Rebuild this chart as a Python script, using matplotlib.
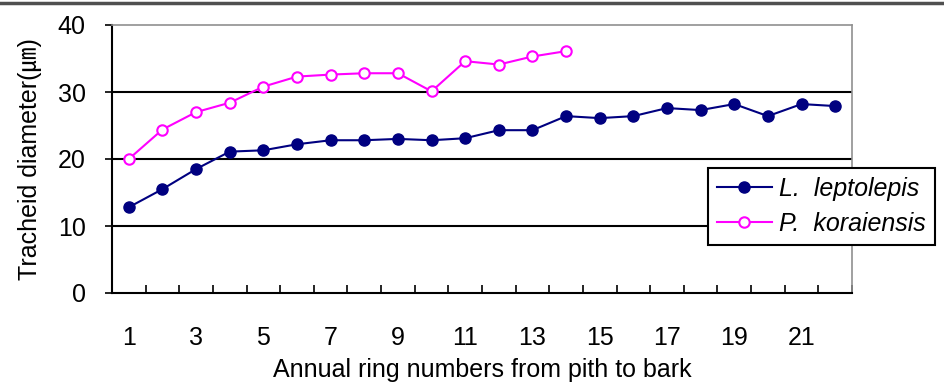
import matplotlib
matplotlib.use("Agg")
import matplotlib.pyplot as plt
from matplotlib.lines import Line2D

# ---- data ----
rings_l = list(range(1, 23))
l_leptolepis = [12.8, 15.5, 18.5, 21.1, 21.3, 22.2, 22.8, 22.8, 23.0, 22.8, 23.1, 24.3,
                24.3, 26.4, 26.1, 26.4, 27.6, 27.3, 28.2, 26.4, 28.2, 27.9]
rings_p = list(range(1, 15))
p_koraiensis = [20.0, 24.4, 27.0, 28.4, 30.8, 32.3, 32.6, 32.8, 32.8, 30.1, 34.6, 34.1,
                35.3, 36.1]
series_names = ["L.  leptolepis", "P.  koraiensis"]
xtick_labels = [str(i) for i in range(1, 22, 2)]
yticks = [0, 10, 20, 30, 40]
xlabel = "Annual ring numbers from pith to bark"
ylabel = "Tracheid diameter(\u339b)"

plt.rcParams['font.family'] = ['Liberation Sans', 'Noto Sans CJK JP', 'DejaVu Sans']

W, H = 944, 385
fig = plt.figure(figsize=(W / 100, H / 100), dpi=100)
ax = fig.add_axes([112 / W, 1 - 293 / H, (852 - 112) / W, (293 - 25) / H])

FS = 18

ax.plot(rings_l, l_leptolepis, color="#000080", lw=1.5, marker="o", ms=8,
        mfc="#000080", mec="#000080", label=series_names[0], zorder=4, clip_on=False)
ax.plot(rings_p, p_koraiensis, color="#FF00FF", lw=1.5, marker="o", ms=7.5,
        mfc="white", mec="#FF00FF", mew=1.5, label=series_names[1], zorder=4, clip_on=False)

ax.set_xlim(0.5, 22.5)
ax.set_ylim(0, 40)

# gridlines
for yv in yticks[1:-1]:
    ax.axhline(yv, color="black", lw=1.5, zorder=1)

# spines
for s in ["left", "bottom"]:
    ax.spines[s].set_color("black")
    ax.spines[s].set_linewidth(1.5)
for s in ["top", "right"]:
    ax.spines[s].set_color("#909090")
    ax.spines[s].set_linewidth(1.2)

# x ticks: marks at category boundaries, labels at odd categories
ax.set_xticks([i + 0.5 for i in range(0, 23)])
ax.set_xticklabels([])
ax.tick_params(axis="x", which="major", direction="in", length=6, width=1.2)
ax.set_xticks([int(t) for t in xtick_labels], minor=True)
ax.set_xticklabels(xtick_labels, minor=True, fontsize=FS)
ax.tick_params(axis="x", which="minor", length=0, pad=24)

ax.set_yticks(yticks)
ax.set_yticklabels([str(v) for v in yticks], fontsize=FS)
ax.tick_params(axis="y", direction="out", length=5, width=1.2, pad=14)

ax.set_xlabel(xlabel, fontsize=FS, va="center")
ax.xaxis.set_label_coords(0.5, -(370 - 293) / 268)
ax.set_ylabel(ylabel, fontsize=FS, va="center")
ax.yaxis.set_label_coords((30 - 112) / 740, 0.5)

leg = fig.legend(loc="upper left", bbox_to_anchor=(708 / W, 1 - 168 / H),
                 bbox_transform=fig.transFigure, frameon=True, fancybox=False,
                 edgecolor="black", framealpha=1, borderaxespad=0,
                 prop={"size": FS, "style": "italic"}, handlelength=2.2,
                 handletextpad=0.3, labelspacing=0.45, borderpad=0.35)
leg.get_frame().set_linewidth(1.5)

# top border of the figure
fig.add_artist(Line2D([0, 1], [1 - 3 / H, 1 - 3 / H], transform=fig.transFigure,
                      color="#505050", lw=2.5))

fig.savefig("out.png", dpi=100)
